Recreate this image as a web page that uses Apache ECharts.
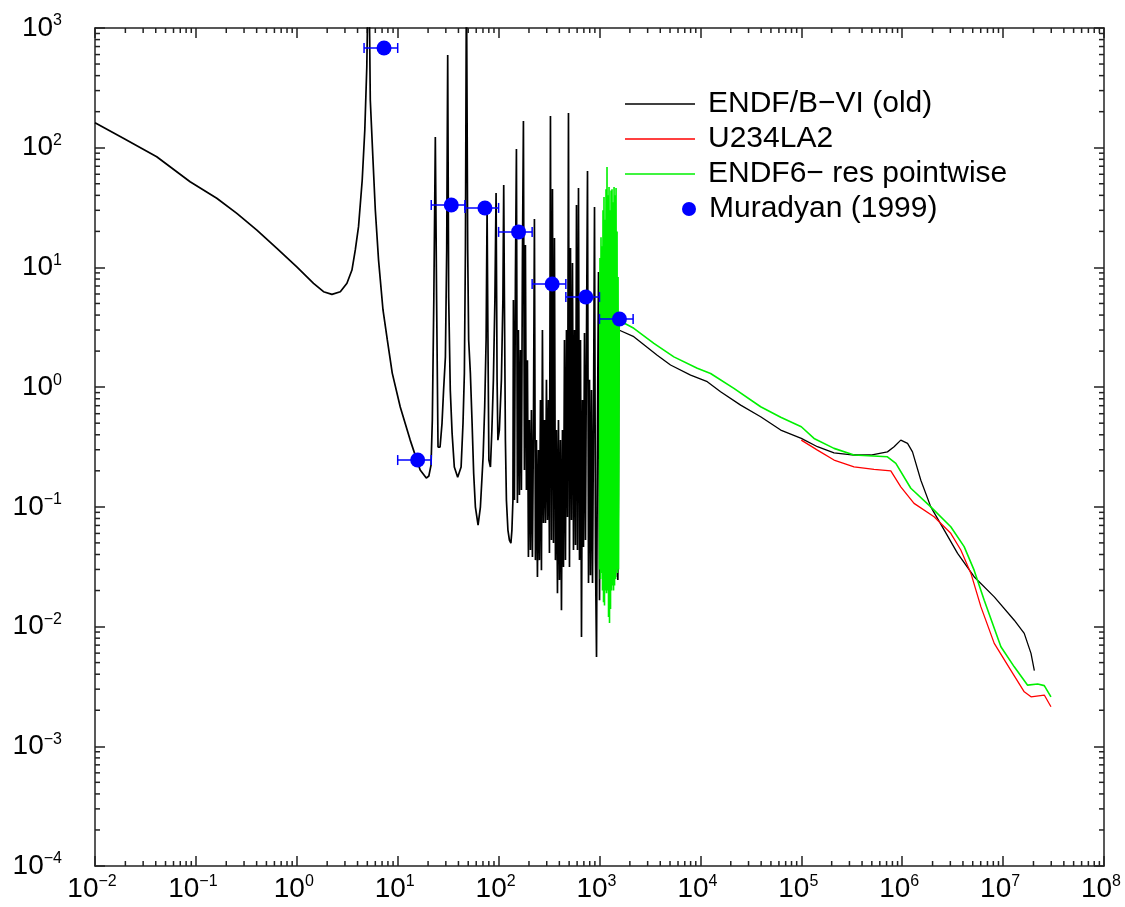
<!DOCTYPE html>
<html>
<head>
<meta charset="utf-8">
<script src="https://cdn.jsdelivr.net/npm/echarts@6/dist/echarts.min.js"></script>
<style>
  html, body { margin: 0; padding: 0; background: #fff; }
  #chart { width: 1125px; height: 907px; }
</style>
</head>
<body>
<div id="chart"></div>
<script>
// axis ranges (energy in eV, cross section in b)
const X_MIN = 0.01, X_MAX = 1e8
const Y_MIN = 1e-4, Y_MAX = 1e3
const xDecades = [-2, -1, 0, 1, 2, 3, 4, 5, 6, 7]
const yDecades = [-4, -3, -2, -1, 0, 1, 2]
const minorSteps = [2, 3, 4, 5, 6, 7, 8, 9]

// ENDF/B-VI (old): thermal region + 5.16 eV resonance
const oldThermal = [
  [0.01, 161.8], [0.0191, 119.8], [0.0409, 84.1], [0.0876, 52.0], [0.161, 37.8],
  [0.2545, 28.3], [0.402, 20.5], [0.635, 14.4], [1.0, 10.1], [1.465, 7.37],
  [1.84, 6.27], [2.23, 5.96], [2.7, 6.27], [3.14, 7.37], [3.52, 9.51],
  [3.8, 14.0], [4.09, 21.9], [4.45, 53.7], [4.72, 140.6], [4.94, 472],
  [5.16, 5000], [5.35, 250], [5.69, 78.9], [6.0, 30.2], [6.46, 11.5],
  [7.15, 4.41], [7.89, 2.48], [8.83, 1.31], [10.6, 0.682], [13.3, 0.361],
  [16.7, 0.203], [19.2, 0.174]
]
// ENDF/B-VI (old): isolated resonances 20 - 140 eV
const oldLowRes = [
  [20.35, 0.181], [21.4, 0.2235], [22.04, 0.531], [22.8, 5.34], [23.6, 123],
  [24.3, 5.34], [25.1, 0.316], [26.3, 0.316], [27.5, 0.501], [28.5, 0.946],
  [29.7, 1.78], [30.6, 14.0], [31.3, 595], [32.0, 5.66], [33.2, 0.946],
  [34.6, 0.413], [36.4, 0.215], [39.3, 0.177], [42.5, 0.215], [44.4, 0.501],
  [45.8, 1.31], [46.9, 14.0], [48.0, 3000], [49.4, 14.0], [50.5, 2.48],
  [52.5, 1.31], [54.6, 0.501], [56.6, 0.191], [58.9, 0.0996], [62.6, 0.0705],
  [66.0, 0.0996], [70.2, 0.261], [72.8, 0.682], [75.2, 2.48], [76.9, 31.3],
  [78.3, 3.0], [80.1, 0.246], [83.0, 0.215], [85.8, 0.438], [88.8, 1.15],
  [91.9, 5.34], [94.4, 41.9], [96.6, 1.15], [98.4, 0.361], [101.8, 0.438],
  [106.6, 1.15], [110.3, 5.34], [112.4, 48.8], [114.2, 5.34], [116.8, 0.361],
  [119.5, 0.114], [123.7, 0.064], [128.0, 0.0528], [132.4, 0.0498], [135.5, 0.064],
  [138.7, 0.114]
]
// ENDF/B-VI (old): dense resonances 140 eV - 1.55 keV
const oldDenseRes = [
  [140.2, 5.34], [143.5, 0.114], [146.8, 7.85], [150.2, 97.5], [153.6, 0.1076],
  [157.2, 3.0], [160.8, 0.1255], [164.5, 2.04], [168.3, 0.138], [172.2, 11.5],
  [176.2, 167], [180.3, 0.203], [184.4, 15.4], [188.7, 0.138], [193.1, 1.68],
  [197.5, 0.0381], [202.1, 0.531], [206.8, 0.0436], [211.5, 0.644], [216.4, 0.0381],
  [221.4, 0.438], [226.5, 25.4], [231.8, 0.0359], [237.1, 0.361], [242.6, 0.0259],
  [248.2, 0.298], [253.9, 0.0359], [259.8, 0.78], [265.8, 0.0296], [271.9, 3.0],
  [278.2, 0.0732], [284.7, 0.531], [291.3, 0.0732], [298.0, 1.15], [304.9, 0.0776],
  [311.9, 0.78], [319.1, 0.0411], [326.5, 184], [334.0, 0.0528], [341.8, 45.2],
  [349.7, 0.0498], [357.7, 17.6], [366.0, 0.0359], [374.5, 0.438], [383.2, 0.019],
  [392.0, 0.531], [401.1, 0.0245], [410.4, 0.361], [419.8, 0.0137], [429.5, 0.438],
  [439.5, 0.0314], [449.6, 2.48], [460.0, 0.0359], [470.6, 3.0], [481.5, 0.0822],
  [492.6, 195], [504.0, 0.0314], [515.7, 14.5], [527.6, 0.0776], [539.8, 10.9],
  [552.3, 0.0436], [565.0, 3.0], [578.1, 0.048], [591.4, 33.2], [605.1, 0.0436],
  [619.1, 46.1], [633.4, 0.0359], [648.0, 2.48], [663.0, 0.0082], [678.4, 0.78],
  [694.0, 0.0462], [710.1, 2.83], [726.5, 0.0528], [743.3, 2.48], [760.5, 63.9],
  [778.1, 0.0231], [796.0, 1.15], [814.4, 0.0269], [833.3, 0.946], [852.5, 0.0231],
  [872.2, 0.531], [892.4, 31.96], [913.0, 0.0359], [934.2, 0.00556], [955.8, 0.531],
  [977.9, 9.15], [1000.5, 0.0166], [1023, 0.78], [1059, 0.0359], [1096, 2.04],
  [1134, 0.0528], [1174, 3.0], [1214, 0.0436], [1242, 0.016], [1285, 1.15],
  [1330, 0.0359], [1377, 2.04], [1442, 0.0259], [1476, 0.531], [1519, 0.0245],
  [1537, 0.125], [1556, 3.0]
]
// ENDF/B-VI (old): smooth part 1.5 keV - 20 MeV
const oldSmooth = [
  [1556, 3.0], [2188, 2.64], [3733, 1.85], [5058, 1.53], [8000, 1.26],
  [11700, 1.11], [15850, 0.916], [25060, 0.708], [39550, 0.566], [62500, 0.438],
  [1e5, 0.373], [1.445e5, 0.318], [2.11e5, 0.283], [3.33e5, 0.271], [4.88e5, 0.271],
  [7.14e5, 0.288], [8.31e5, 0.318], [9.68e5, 0.361], [1.13e6, 0.339], [1.265e6, 0.288],
  [1.53e6, 0.167], [1.92e6, 0.1], [2.61e6, 0.064], [3.54e6, 0.0409], [5.16e6, 0.0261],
  [8.17e6, 0.0177], [1.29e7, 0.0113], [1.62e7, 0.00877], [1.89e7, 0.00597], [2.04e7, 0.00428]
]

// U234LA2
const la2 = [
  [1e5, 0.361], [1.445e5, 0.298], [2.11e5, 0.246], [3.33e5, 0.216], [5.26e5, 0.206],
  [7.71e5, 0.2], [9.68e5, 0.147], [1.31e6, 0.107], [2.07e6, 0.0826], [3.03e6, 0.0601],
  [3.81e6, 0.0436], [4.8e6, 0.0278], [6.03e6, 0.0146], [8.17e6, 0.00724], [1.19e7, 0.00433],
  [1.62e7, 0.00285], [1.89e7, 0.00259], [2.56e7, 0.00268], [2.98e7, 0.00214]
]

// ENDF6- res pointwise: dense resonances 1 - 1.55 keV, then smooth
const resForest = [
  [1000, 0.03], [1011, 12], [1023, 0.025], [1035, 17.9], [1047, 0.028],
  [1059, 15], [1071, 0.02], [1083, 30], [1096, 0.016], [1108, 38.7],
  [1121, 0.015], [1134, 25], [1147, 0.02], [1160, 45], [1174, 0.019],
  [1187, 69], [1201, 0.02], [1215, 40], [1229, 0.012], [1243, 47],
  [1257, 0.0107], [1272, 30], [1286, 0.014], [1301, 44], [1316, 0.02],
  [1331, 45], [1347, 0.022], [1362, 35], [1378, 0.02], [1394, 47],
  [1410, 0.022], [1426, 40], [1443, 0.025], [1459, 46], [1476, 0.03],
  [1493, 20], [1510, 0.028], [1528, 8.3], [1545, 0.03], [1570, 3.6]
]
const resSmooth = [
  [1615, 3.52], [2188, 3.1], [3459, 2.32], [5458, 1.79], [9311, 1.44],
  [12620, 1.3], [21480, 0.977], [39550, 0.686], [62500, 0.56], [1e5, 0.467],
  [1.337e5, 0.373], [2.11e5, 0.308], [3.33e5, 0.271], [7.14e5, 0.262], [8.65e5, 0.231],
  [1.217e6, 0.143], [1.92e6, 0.1], [3.03e6, 0.0682], [4.11e6, 0.0465], [5.16e6, 0.0296],
  [6.5e6, 0.0166], [9.51e6, 0.00678], [1.29e7, 0.00461], [1.75e7, 0.00324], [2.2e7, 0.00331],
  [2.56e7, 0.00321], [2.98e7, 0.00259]
]

// Muradyan (1999): bin averages
const muradyanE = [7.32, 15.77, 33.96, 73.2, 157.7, 339.6, 732, 1577]
const muradyanLo = [4.64, 10, 21.5, 46.4, 100, 215, 464, 1000]
const muradyanHi = [10, 21.5, 46.4, 100, 215, 464, 1000, 2154]
const muradyanSigma = [681, 0.246, 33.2, 31.4, 19.8, 7.27, 5.66, 3.71]

const FONT = 'Liberation Sans, Arial, sans-serif'
const AXIS_COLOR = '#222'
const OLD_NAME = 'ENDF/B\u2212VI (old)'

function powerLabel(value) {
  const e = Math.round(Math.log10(value))
  const s = e < 0 ? '\u2212' + (-e) : String(e)
  return '{b|10}{s|' + s + '}'
}
const labelRich = {
  b: { fontSize: 28, fontFamily: FONT, color: '#000', lineHeight: 30 },
  s: { fontSize: 16, fontFamily: FONT, color: '#000', lineHeight: 16, verticalAlign: 'top' }
}
const xLabelRich = {
  b: labelRich.b,
  s: Object.assign({}, labelRich.s, { padding: [0, 6, 0, 0] })
}

const xMinor = []
xDecades.forEach(d => minorSteps.forEach(m => xMinor.push([m * Math.pow(10, d), Y_MIN])))
const yMinor = []
yDecades.forEach(d => minorSteps.forEach(m => yMinor.push([X_MIN, m * Math.pow(10, d)])))

function axisBase(extra) {
  return Object.assign({
    type: 'log',
    logBase: 10,
    axisLine: { show: true, onZero: false, lineStyle: { color: AXIS_COLOR, width: 1.5 } },
    axisTick: { show: true, inside: true, length: 10, interval: 0, lineStyle: { color: AXIS_COLOR, width: 1.5 } },
    splitLine: { show: false },
    minorTick: { show: false },
    minorSplitLine: { show: false }
  }, extra)
}

const chart = echarts.init(document.getElementById('chart'), null, { renderer: 'canvas' })

chart.setOption({
  animation: false,
  backgroundColor: '#fff',
  grid: { left: 95, right: 21, top: 28, bottom: 41, containLabel: false, outerBoundsMode: 'none' },
  xAxis: [
    axisBase({
      min: X_MIN, max: X_MAX, interval: 1, splitNumber: 10, position: 'bottom',
      axisLabel: { margin: 8, interval: 0, hideOverlap: false, formatter: powerLabel, rich: xLabelRich }
    }),
    axisBase({
      min: X_MIN, max: X_MAX, interval: 1, splitNumber: 10, position: 'top',
      axisLabel: { show: false }
    })
  ],
  yAxis: [
    axisBase({
      min: Y_MIN, max: Y_MAX, interval: 1, splitNumber: 7, position: 'left',
      axisLabel: { margin: 33, interval: 0, hideOverlap: false, formatter: powerLabel, rich: labelRich }
    }),
    axisBase({
      min: Y_MIN, max: Y_MAX, interval: 1, splitNumber: 7, position: 'right',
      axisLabel: { show: false }
    })
  ],
  legend: [
    {
      data: [OLD_NAME, 'U234LA2', 'ENDF6\u2212 res pointwise'],
      orient: 'vertical',
      left: 620,
      top: 84,
      icon: 'rect',
      itemWidth: 70,
      itemHeight: 1.5,
      itemGap: 5,
      selectedMode: false,
      textStyle: { fontFamily: FONT, fontSize: 30, color: '#000', lineHeight: 30, padding: [0, 0, 0, 8] }
    },
    {
      data: ['Muradyan (1999)'],
      orient: 'vertical',
      left: 677,
      top: 189,
      icon: 'circle',
      itemWidth: 22,
      itemHeight: 14,
      selectedMode: false,
      textStyle: { fontFamily: FONT, fontSize: 30, color: '#000', lineHeight: 30, padding: [0, 0, 0, 4] }
    }
  ],
  series: [
    {
      // thermal + resonance part, drawn a bit heavier like the dense original
      name: OLD_NAME,
      type: 'line',
      color: '#000',
      symbol: 'none',
      lineStyle: { color: '#000', width: 1.7 },
      data: oldThermal.concat(oldLowRes, oldDenseRes),
      z: 2
    },
    {
      name: OLD_NAME,
      type: 'line',
      color: '#000',
      symbol: 'none',
      lineStyle: { color: '#000', width: 1.3 },
      data: oldSmooth,
      z: 2
    },
    {
      name: 'U234LA2',
      type: 'line',
      color: '#ff0000',
      symbol: 'none',
      lineStyle: { color: '#ff0000', width: 1.3 },
      data: la2,
      z: 3
    },
    {
      name: 'ENDF6\u2212 res pointwise',
      type: 'line',
      color: '#00f000',
      symbol: 'none',
      lineStyle: { color: '#00f000', width: 1.6 },
      data: resForest.concat(resSmooth),
      z: 4
    },
    {
      name: 'Muradyan errors',
      type: 'custom',
      z: 5,
      encode: { x: 0, y: 1 },
      data: muradyanE.map((e, i) => [e, muradyanSigma[i], muradyanLo[i], muradyanHi[i]]),
      renderItem: function(params, api) {
        const y = api.value(1)
        const a = api.coord([api.value(2), y])
        const b = api.coord([api.value(3), y])
        const st = { stroke: '#0000ff', lineWidth: 1.5 }
        return {
          type: 'group',
          children: [
            { type: 'line', shape: { x1: a[0], y1: a[1], x2: b[0], y2: b[1] }, style: st },
            { type: 'line', shape: { x1: a[0], y1: a[1] - 5, x2: a[0], y2: a[1] + 5 }, style: st },
            { type: 'line', shape: { x1: b[0], y1: b[1] - 5, x2: b[0], y2: b[1] + 5 }, style: st }
          ]
        }
      }
    },
    {
      name: 'Muradyan (1999)',
      type: 'scatter',
      color: '#0000ff',
      symbol: 'circle',
      symbolSize: 15,
      itemStyle: { color: '#0000ff', opacity: 1 },
      data: muradyanE.map((e, i) => [e, muradyanSigma[i]]),
      z: 6
    },
    {
      // minor ticks along bottom and top
      name: 'xMinorTicks',
      type: 'custom',
      silent: true,
      z: 1,
      data: xMinor,
      renderItem: function(params, api) {
        const b = api.coord([api.value(0), Y_MIN])
        const t = api.coord([api.value(0), Y_MAX])
        const st = { stroke: AXIS_COLOR, lineWidth: 1.5 }
        return {
          type: 'group',
          children: [
            { type: 'line', shape: { x1: b[0], y1: b[1], x2: b[0], y2: b[1] - 5 }, style: st },
            { type: 'line', shape: { x1: t[0], y1: t[1], x2: t[0], y2: t[1] + 5 }, style: st }
          ]
        }
      }
    },
    {
      // minor ticks along left and right
      name: 'yMinorTicks',
      type: 'custom',
      silent: true,
      z: 1,
      data: yMinor,
      renderItem: function(params, api) {
        const l = api.coord([X_MIN, api.value(1)])
        const r = api.coord([X_MAX, api.value(1)])
        const st = { stroke: AXIS_COLOR, lineWidth: 1.5 }
        return {
          type: 'group',
          children: [
            { type: 'line', shape: { x1: l[0], y1: l[1], x2: l[0] + 5, y2: l[1] }, style: st },
            { type: 'line', shape: { x1: r[0], y1: r[1], x2: r[0] - 5, y2: r[1] }, style: st }
          ]
        }
      }
    }
  ]
})
</script>
</body>
</html>
